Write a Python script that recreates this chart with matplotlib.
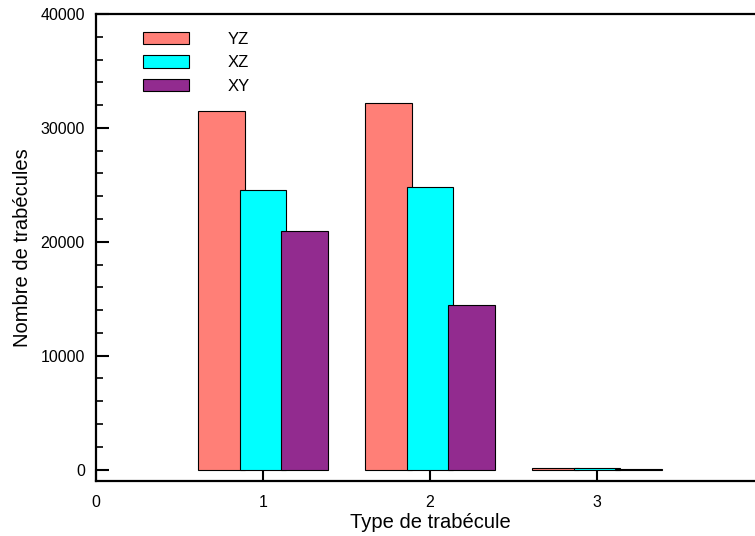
import matplotlib.pyplot as plt
import numpy as np

plt.rcParams['font.family'] = ['Liberation Sans', 'DejaVu Sans']

# Data
types = [1, 2, 3]
yz = [31500, 32200, 100]
xz = [24550, 24800, 150]
xy = [20950, 14450, 70]
series = ['YZ', 'XZ', 'XY']
colors = ['#FF7F77', '#00FFFF', '#922B8F']

fig = plt.figure(figsize=(7.55, 5.36), dpi=100)
# axes extends past the right edge (the original is cropped there)
ax = fig.add_axes([96 / 755, 55 / 536, 668 / 755, 467 / 536])

x = np.array(types, dtype=float)
step = 0.25
width = 0.28
for i, (vals, lab, col) in enumerate(zip([yz, xz, xy], series, colors)):
    ax.bar(x + (i - 1) * step, vals, width=width, color=col,
           edgecolor='black', linewidth=0.8, label=lab, zorder=2 + i)

ax.set_xlim(0, 4)
ax.set_ylim(-1000, 40000)
ax.set_xticks([0, 1, 2, 3])
ax.set_yticks(np.arange(0, 40001, 10000))
ax.set_yticks(np.arange(0, 40001, 2000), minor=True)
ax.tick_params(axis='both', which='major', direction='in', length=9, width=1.5,
               labelsize=11.5, pad=8)
ax.tick_params(axis='x', which='major', pad=10)
ax.tick_params(axis='y', which='minor', direction='in', length=5, width=1.2)
for s in ax.spines.values():
    s.set_linewidth(1.6)

ax.set_xlabel('Type de trabécule', fontsize=14.5, labelpad=2)
ax.set_ylabel('Nombre de trabécules', fontsize=14.5, labelpad=6)

leg = ax.legend(loc='upper left', bbox_to_anchor=(0.07, 0.962), frameon=False,
                fontsize=12, handlelength=2.8, handleheight=0.8,
                handletextpad=2.3, labelspacing=0.5,
                borderpad=0, borderaxespad=0)

fig.savefig('out.png', dpi=100)
